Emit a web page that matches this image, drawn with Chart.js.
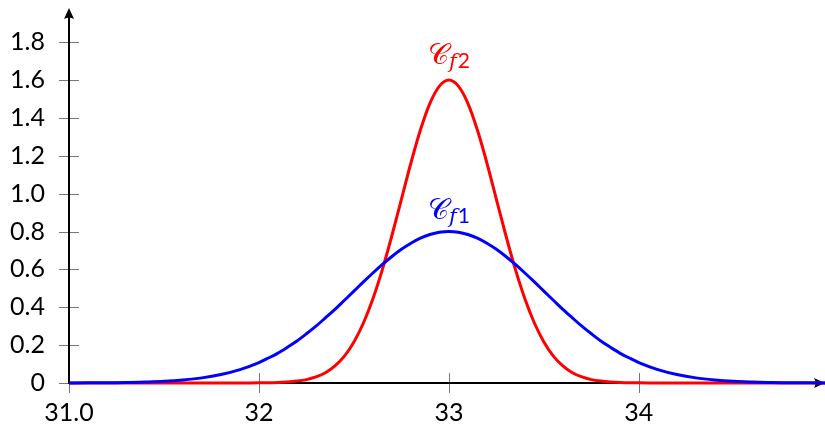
<!DOCTYPE html>
<html><head><meta charset="utf-8">
<script src="https://cdn.jsdelivr.net/npm/chart.js@4"></script>
<style>html,body{margin:0;padding:0;background:#fff}#wrap{width:825px;height:430px;position:relative}</style>
</head><body><div id="wrap"><canvas id="c" width="825" height="430"></canvas></div>
<script>
const xValues = [
  31.0,31.1,31.2,31.3,31.4,31.5,31.6,31.7,31.8,31.9,
  32.0,32.05,32.1,32.15,32.2,32.25,32.3,32.35,32.4,32.45,
  32.5,32.55,32.6,32.65,32.7,32.75,32.8,32.85,32.9,32.95,
  33.0,33.05,33.1,33.15,33.2,33.25,33.3,33.35,33.4,33.45,
  33.5,33.55,33.6,33.65,33.7,33.75,33.8,33.85,33.9,33.95,
  34.0,34.1,34.2,34.3,34.4,34.5,34.6,34.7,34.8,34.9,35.0
];
const seriesF1 = [
  0.000,0.001,0.001,0.002,0.005,0.009,0.016,0.027,0.045,0.071,
  0.108,0.132,0.158,0.189,0.222,0.260,0.300,0.344,0.389,0.437,
  0.485,0.534,0.581,0.626,0.668,0.706,0.738,0.765,0.784,0.796,
  0.800,0.796,0.784,0.765,0.738,0.706,0.668,0.626,0.581,0.534,
  0.485,0.437,0.389,0.344,0.300,0.260,0.222,0.189,0.158,0.132,
  0.108,0.071,0.045,0.027,0.016,0.009,0.005,0.002,0.001,0.001,0.000
];
const seriesF2 = [
  0,0,0,0,0,0,0,0,0,0,
  0.001,0.001,0.002,0.005,0.010,0.018,0.032,0.054,0.090,0.142,
  0.217,0.317,0.445,0.600,0.779,0.970,1.162,1.336,1.477,1.568,
  1.600,1.568,1.477,1.336,1.162,0.970,0.779,0.600,0.445,0.317,
  0.217,0.142,0.090,0.054,0.032,0.018,0.010,0.005,0.002,0.001,
  0.001,0,0,0,0,0,0,0,0,0,0
];
const xTickValues = [31, 32, 33, 34];
const xTickLabels = ['31.0', '32', '33', '34'];
const yTickValues = [0, 0.2, 0.4, 0.6, 0.8, 1.0, 1.2, 1.4, 1.6, 1.8];
const yTickLabels = ['0', '0.2', '0.4', '0.6', '0.8', '1.0', '1.2', '1.4', '1.6', '1.8'];
const curveLabels = [
  { sub: 'f1', x: 33, y: 0.868, color: '#0000ff' },
  { sub: 'f2', x: 33, y: 1.683, color: '#ff0000' }
];

const toPoints = (ys) => xValues.map((x, i) => ({ x: x, y: ys[i] }));

const FONT = 'Lato, "DejaVu Sans", sans-serif';

const axesPlugin = {
  id: 'axes',
  beforeDatasetsDraw(chart) {
    const { ctx, scales: { x, y } } = chart;
    const x0 = x.getPixelForValue(31);
    const y0 = y.getPixelForValue(0);
    ctx.save();
    ctx.strokeStyle = '#777';
    ctx.lineWidth = 1;
    xTickValues.forEach(v => {
      const px = Math.round(x.getPixelForValue(v)) + 0.5;
      ctx.beginPath(); ctx.moveTo(px, y0 - 10); ctx.lineTo(px, y0 + 10); ctx.stroke();
    });
    yTickValues.forEach(v => {
      const py = Math.round(y.getPixelForValue(v)) + 0.5;
      ctx.beginPath(); ctx.moveTo(x0 - 10, py); ctx.lineTo(x0 + 10, py); ctx.stroke();
    });
    ctx.strokeStyle = '#000';
    ctx.fillStyle = '#000';
    ctx.lineWidth = 2;
    const xEnd = 825, yEnd = 8;
    ctx.beginPath(); ctx.moveTo(x0 - 1, y0); ctx.lineTo(xEnd - 4, y0); ctx.stroke();
    ctx.beginPath(); ctx.moveTo(x0, y0 + 1); ctx.lineTo(x0, yEnd + 4); ctx.stroke();
    ctx.beginPath();
    ctx.moveTo(xEnd, y0);
    ctx.lineTo(xEnd - 11, y0 - 5);
    ctx.quadraticCurveTo(xEnd - 8, y0, xEnd - 11, y0 + 5);
    ctx.closePath(); ctx.fill();
    ctx.beginPath();
    ctx.moveTo(x0, yEnd);
    ctx.lineTo(x0 - 5, yEnd + 11);
    ctx.quadraticCurveTo(x0, yEnd + 8, x0 + 5, yEnd + 11);
    ctx.closePath(); ctx.fill();
    ctx.restore();
  },
  afterDatasetsDraw(chart) {
    const { ctx, scales: { x, y } } = chart;
    ctx.save();
    ctx.textBaseline = 'alphabetic';
    ctx.textAlign = 'left';
    const cFont = '29px "Noto Sans", "DejaVu Serif", serif';
    const fFont = 'italic 21px "DejaVu Serif", serif';
    const nFont = '21px Lato, sans-serif';
    curveLabels.forEach(l => {
      const cx = x.getPixelForValue(l.x);
      const by = y.getPixelForValue(l.y);
      ctx.fillStyle = l.color;
      ctx.font = cFont;
      const cStr = '\u{1D49E}';
      const wC = ctx.measureText(cStr).width;
      ctx.font = fFont;
      const fStr = l.sub[0];
      const wF = ctx.measureText(fStr).width;
      ctx.font = nFont;
      const nStr = l.sub.slice(1);
      const wN = ctx.measureText(nStr).width;
      const total = wC + wF + wN + 1;
      let px = cx - total / 2;
      ctx.font = cFont;
      ctx.fillText(cStr, px, by);
      px += wC;
      ctx.font = fFont;
      ctx.fillText(fStr, px, by + 4);
      px += wF + 1;
      ctx.font = nFont;
      ctx.fillText(nStr, px, by + 4);
    });
    ctx.restore();
  }
};

new Chart(document.getElementById('c'), {
  type: 'line',
  data: {
    datasets: [
      { label: 'Cf1', data: toPoints(seriesF1), borderColor: '#0000ff', borderWidth: 3, pointRadius: 0, tension: 0.4, cubicInterpolationMode: 'monotone', fill: false, clip: false },
      { label: 'Cf2', data: toPoints(seriesF2), borderColor: '#ff0000', borderWidth: 3, pointRadius: 0, tension: 0.4, cubicInterpolationMode: 'monotone', fill: false, clip: false }
    ]
  },
  options: {
    responsive: false,
    animation: false,
    devicePixelRatio: 1,
    layout: { padding: { top: 10, right: 0, left: 0, bottom: 0 } },
    plugins: { legend: { display: false }, tooltip: { enabled: false } },
    scales: {
      x: {
        type: 'linear', min: 31, max: 34.98,
        afterBuildTicks: (s) => { s.ticks = xTickValues.map(v => ({ value: v })); },
        afterFit: (s) => { s.height = 47; s.paddingLeft = 0; s.paddingRight = 0; },
        grid: { display: false, drawTicks: false },
        border: { display: false },
        ticks: {
          color: '#000', font: { family: FONT, size: 25 }, padding: 15, maxRotation: 0, autoSkip: false,
          callback: (v) => { const i = xTickValues.indexOf(v); return i >= 0 ? xTickLabels[i] : ''; }
        }
      },
      y: {
        type: 'linear', min: 0, max: 1.97,
        afterBuildTicks: (s) => { s.ticks = yTickValues.map(v => ({ value: v })); },
        afterFit: (s) => { s.width = 69; s.paddingTop = 0; s.paddingBottom = 0; },
        grid: { display: false, drawTicks: false },
        border: { display: false },
        ticks: {
          color: '#000', font: { family: FONT, size: 25 }, padding: 24, autoSkip: false,
          callback: (v) => { const i = yTickValues.findIndex(t => Math.abs(t - v) < 1e-9); return i >= 0 ? yTickLabels[i] : ''; }
        }
      }
    }
  },
  plugins: [axesPlugin]
});
</script>
</body></html>
